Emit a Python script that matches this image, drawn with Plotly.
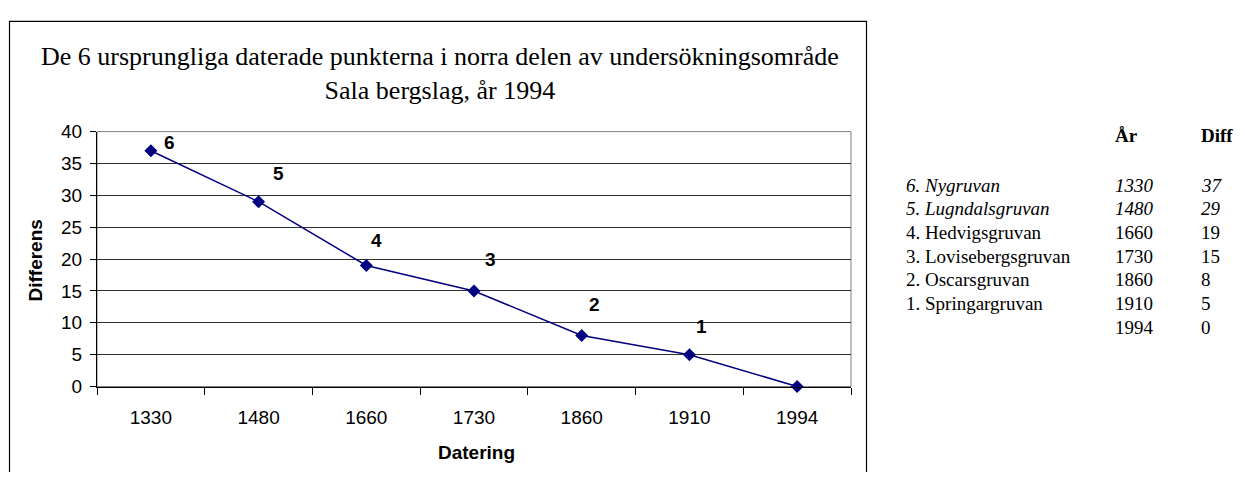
import plotly.graph_objects as go

# ---- data ----
years = ["1330", "1480", "1660", "1730", "1860", "1910", "1994"]
diffs = [37, 29, 19, 15, 8, 5, 0]
point_labels = ["6", "5", "4", "3", "2", "1", ""]
mine_names = ["6. Nygruvan", "5. Lugndalsgruvan", "4. Hedvigsgruvan",
              "3. Lovisebergsgruvan", "2. Oscarsgruvan", "1. Springargruvan", ""]
italic_rows = [True, True, False, False, False, False, False]

title_text = "De 6 ursprungliga daterade punkterna i norra delen av undersökningsområde<br>Sala bergslag, år 1994"
x_title = "Datering"
y_title = "Differens"
header_year = "År"
header_diff = "Diff"

# ---- style / layout ----
# the page body has an 8px margin; size the figure so that it fits the window
OFF = 8
W, H = 1245 - 2 * OFF, 480 - 2 * OFF
def px(x):
    return (x - OFF) / W
def py(y):
    return 1 - (y - OFF) / H

plot_left, plot_right, plot_top, plot_bottom = 97, 851, 127, 394
label_shift = [(19, 8), (20, 28), (10, 25), (16, 31), (13, 31), (12, 28), (0, 0)]
navy = "#000080"
arial = "Arial, Liberation Sans"
serif = "Liberation Serif, Times New Roman"

idx = list(range(len(years)))
bounds = [i - 0.5 for i in range(len(years) + 1)]

fig = go.Figure()
fig.add_trace(go.Scatter(
    x=idx, y=diffs, mode="lines+markers",
    line=dict(color=navy, width=1.5),
    marker=dict(symbol="diamond", size=10, color=navy),
    hoverinfo="skip", showlegend=False, cliponaxis=False,
))

for xv, yv, lab, (dx, dy) in zip(idx, diffs, point_labels, label_shift):
    if lab:
        fig.add_annotation(x=xv, y=yv, xref="x", yref="y", text=f"<b>{lab}</b>",
                           showarrow=False, xshift=dx, yshift=dy,
                           font=dict(family=arial, size=19, color="black"))

# title
fig.add_annotation(x=px(440), y=py(66), xref="paper", yref="paper", text=title_text,
                   showarrow=False, xanchor="center", yanchor="middle",
                   font=dict(family=serif, size=26, color="black"))

# axis titles
fig.add_annotation(x=px(476), y=py(463), xref="paper", yref="paper",
                   text=f"<b>{x_title}</b>", showarrow=False, xanchor="center", yanchor="middle",
                   font=dict(family=arial, size=19, color="black"))
fig.add_annotation(x=px(36), y=py(262), xref="paper", yref="paper",
                   text=f"<b>{y_title}</b>", showarrow=False, textangle=-90,
                   xanchor="center", yanchor="middle",
                   font=dict(family=arial, size=19, color="black"))

# table on the right
col_name, col_year, col_diff = 904, 1113, 1199
header_y = 131
row_y0, row_step = 183, 24.8
for col, txt in ((col_year, header_year), (col_diff, header_diff)):
    fig.add_annotation(x=px(col), y=py(header_y), xref="paper", yref="paper",
                       text=f"<b>{txt}</b>", showarrow=False, xanchor="left", yanchor="middle",
                       font=dict(family=serif, size=19, color="black"))
for i, (nm, yr, df, it) in enumerate(zip(mine_names, years, diffs, italic_rows)):
    yy = py(row_y0 + i * row_step)
    for col, txt in ((col_name, nm), (col_year, yr), (col_diff, str(df))):
        if not txt:
            continue
        t = f"<i>{txt}</i>" if it else txt
        fig.add_annotation(x=px(col), y=yy, xref="paper", yref="paper", text=t,
                           showarrow=False, xanchor="left", yanchor="middle",
                           font=dict(family=serif, size=19, color="black"))

# chart border and plot-area frame
fig.add_shape(type="rect", xref="paper", yref="paper",
              x0=px(9.5), x1=px(866.5), y0=py(500), y1=py(11.5),
              line=dict(color="black", width=1.2), fillcolor="rgba(0,0,0,0)", layer="below")
fig.add_shape(type="rect", xref="paper", yref="paper",
              x0=px(plot_left), x1=px(plot_right), y0=py(plot_bottom), y1=py(plot_top),
              line=dict(color="#808080", width=1), layer="below")

fig.update_layout(
    width=W, height=H,
    margin=dict(l=0, r=0, t=0, b=0),
    paper_bgcolor="white", plot_bgcolor="white",
    xaxis=dict(domain=[px(plot_left), px(plot_right)], range=[-0.5, len(years) - 0.5],
               tickmode="array", tickvals=idx, ticktext=years,
               showgrid=False, showline=True, linecolor="black", linewidth=1,
               ticks="", ticklabelstandoff=14,
               minor=dict(tickmode="array", tickvals=bounds, ticks="outside",
                          ticklen=7, tickcolor="black", showgrid=False),
               tickfont=dict(family=arial, size=19, color="black"),
               zeroline=False, fixedrange=True),
    yaxis=dict(domain=[py(plot_bottom), py(plot_top)], range=[0, 40], dtick=5,
               showgrid=True, gridcolor="#303030", gridwidth=1,
               showline=True, linecolor="black", linewidth=1,
               ticks="outside", ticklen=6, tickcolor="black",
               ticklabelstandoff=4,
               tickfont=dict(family=arial, size=19, color="black"),
               zeroline=False, fixedrange=True),
)

fig.write_html("out.html")
